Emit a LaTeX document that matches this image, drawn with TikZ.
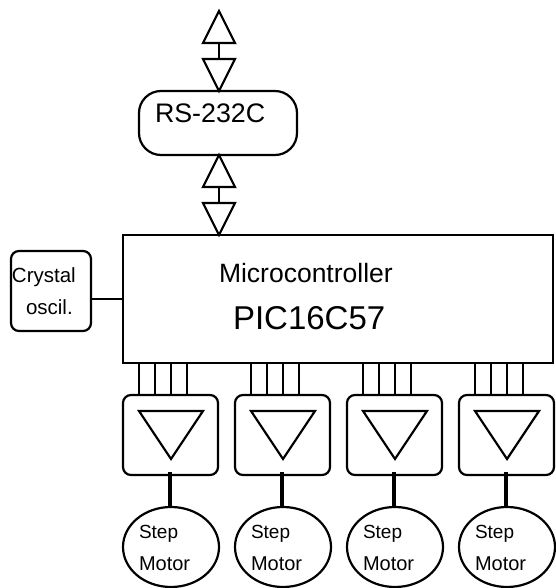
\documentclass[tikz,border=0pt]{standalone}
\usepackage{fontspec}
\setmainfont{Liberation Sans}
\usetikzlibrary{calc,shapes.geometric}
\tikzset{
  line/.style={draw=black,line width=2.2pt,line join=miter},
  boxnode/.style={line,rectangle,inner sep=0pt,outer sep=0pt,anchor=north west},
  rounded/.style={boxnode,rounded corners=#1},
  wire/.style={line},
  thickwire/.style={draw=black,line width=4.8pt},
  lab/.style={anchor=base west,inner sep=0pt,outer sep=0pt},
  motor/.style={line,ellipse,minimum width=96pt,minimum height=80pt,inner sep=0pt,outer sep=0pt}
}
\newcommand{\fs}[1]{\fontsize{#1}{#1}\selectfont}
\newcommand{\arrowpair}[3]{% name, x, top y
  \coordinate (#1upapex) at (#2,#3);
  \coordinate (#1upbase) at (#2,#3+32);
  \coordinate (#1dnbase) at (#2,#3+48);
  \coordinate (#1dnapex) at (#2,#3+80);
  \draw[line] (#1upapex) -- ($(#1upbase)+(-16,0)$) -- ($(#1upbase)+(16,0)$) -- cycle;
  \draw[line] (#1dnapex) -- ($(#1dnbase)+(-16,0)$) -- ($(#1dnbase)+(16,0)$) -- cycle;
  \draw[wire] (#1upbase) -- (#1dnbase);
}
\begin{document}
\begin{tikzpicture}[x=1pt,y=-1pt]
\useasboundingbox (0,0) rectangle (555,588);
\arrowpair{a}{219}{11}
\arrowpair{b}{219}{155}
\node[rounded=22pt,minimum width=158pt,minimum height=64pt] (rs) at (139,91) {};
\node[lab,font=\fs{26.8}] (rslab) at (155,123) {RS-232C};
\node[boxnode,minimum width=430pt,minimum height=128pt] (mcu) at (123,235) {};
\node[lab,font=\fs{26.5}] (mculab) at (219,282) {Microcontroller};
\node[lab,font=\fs{33}] (piclab) at (233,329) {PIC16C57};
\node[rounded=8pt,minimum width=80pt,minimum height=80pt] (xtal) at (11,251) {};
\node[lab,font=\fs{20.5}] (xtallab) at (12,282) {Crystal};
\node[lab,font=\fs{20.5}] (osclab) at (26,314) {oscil.};
\coordinate (mcuin) at (123,299);
\draw[wire] (xtal.east |- mcuin) -- (mcuin);
\foreach \i/\x in {1/123,2/235,3/347,4/459}{
  \node[rounded=8pt,minimum width=95pt,minimum height=80pt] (drv\i) at (\x,395) {};
  \foreach \p in {16,32,48,64}{
    \coordinate (top\i\p) at (\x+\p,363);
    \coordinate (bot\i\p) at (\x+\p,395);
    \draw[wire] (top\i\p) -- (bot\i\p);
  }
  \draw[line] (\x+16,411) -- (\x+80,411) -- (\x+48,459) -- cycle;
  \node[motor] (mot\i) at (\x+48,547) {};
  \coordinate (out\i) at (\x+47,472);
  \draw[thickwire] (out\i) -- (\x+47,507);
  \node[lab,font=\fs{19}] (step\i) at (\x+16,538) {Step};
  \node[lab,font=\fs{20}] (motlab\i) at (\x+16,570) {Motor};
}
\end{tikzpicture}
\end{document}
